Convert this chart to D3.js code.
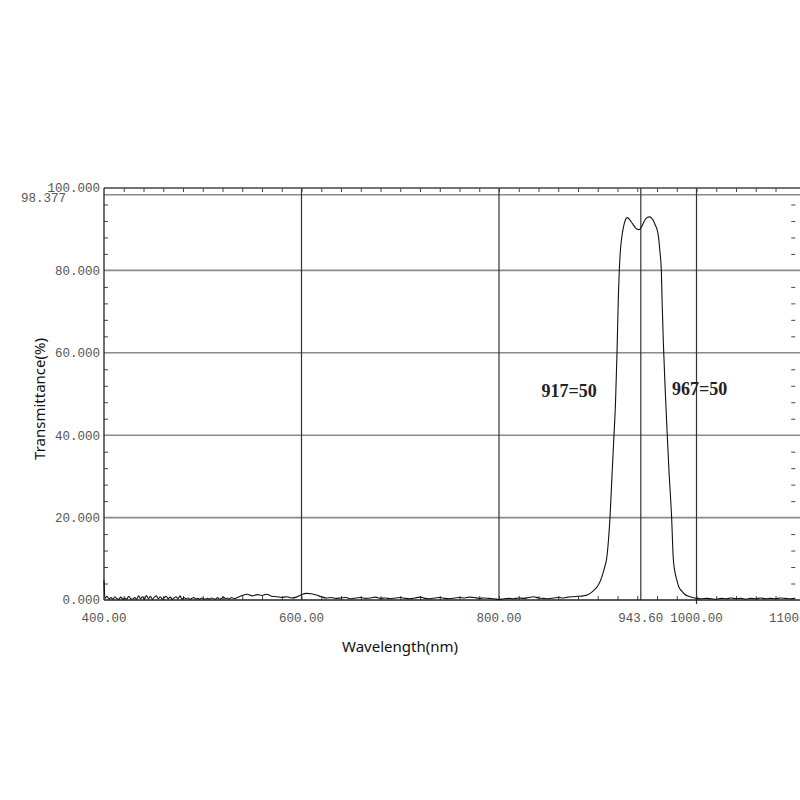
<!DOCTYPE html>
<html>
<head>
<meta charset="utf-8">
<script src="https://cdn.jsdelivr.net/npm/d3@7"></script>
<style>
  html, body { margin: 0; padding: 0; background: #fff; }
  svg { display: block; }
</style>
</head>
<body>
<svg id="chart" width="800" height="800"></svg>
<script>
// ---- data ----
const wavelength = [
  400, 401, 403, 405, 407, 409, 411, 413, 415, 417, 419, 421, 423, 425, 427, 429, 431, 433, 435, 437,
  439, 441, 443, 445, 447, 449, 451, 453, 455, 457, 459, 461, 463, 465, 467, 469, 471, 473, 475, 477,
  479, 481, 483, 485, 487, 489, 491, 493, 495, 497, 499, 501, 503, 505, 507, 509, 511, 513, 515, 517,
  519, 521, 523, 525, 527, 529, 532, 535, 538, 540,
  545, 550, 555, 560, 565, 570, 575, 580, 585, 590,
  595, 600, 605, 610, 615, 620, 625, 630, 635, 640, 645, 650, 655, 660, 665, 670, 675, 680, 685, 690,
  695, 700, 705, 710, 715, 720, 725, 730, 735, 740, 745, 750, 755, 760, 765, 770, 775, 780, 785, 790,
  795, 800, 805, 810, 815, 820, 825, 830, 835, 840, 845, 850, 855, 860, 865, 870, 875, 880, 885, 890,
  894, 898, 901, 904, 907, 909, 911, 912.4, 914, 916, 918, 919.5, 920.8, 921.8, 923, 924.9, 926.9, 928.5, 930, 932,
  935, 938, 940, 942, 944, 946, 949, 952, 954.5, 956.5, 958.3, 960, 961.3, 963, 964.4, 965.1, 966.5, 968.5, 970, 972,
  974.8, 976.5, 978, 980, 982, 985, 988, 992, 996, 1000, 1005, 1010, 1015, 1020, 1025, 1030, 1035, 1040, 1045, 1050,
  1055, 1060, 1065, 1070, 1075, 1080, 1085, 1090, 1095, 1100
];
const transmittance = [
  4.8, 0.4, 0.9, 0.2, 0.6, 0.2, 0.8, 0.3, 0.2, 0.7, 0.2, 0.5, 0.2, 0.9, 0.3, 0.2, 0.6, 0.2, 1.0, 0.3,
  0.8, 0.2, 1.1, 0.3, 0.9, 0.2, 0.7, 1.0, 0.3, 0.8, 0.2, 0.6, 0.9, 0.3, 0.7, 0.2, 0.5, 0.8, 0.3, 1.0,
  0.2, 0.6, 0.3, 0.5, 0.2, 0.4, 0.6, 0.2, 0.4, 0.2, 0.5, 0.3, 0.2, 0.4, 0.2, 0.5, 0.3, 0.2, 0.6, 0.2,
  0.4, 0.7, 0.3, 0.5, 0.2, 0.6, 0.3, 0.6, 0.9, 1.1,
  1.4, 1.0, 1.3, 1.1, 1.4, 0.9, 0.8, 0.6, 0.8, 0.5,
  0.7, 1.3, 1.6, 1.5, 1.2, 0.8, 0.5, 0.6, 0.4, 0.5, 0.6, 0.3, 0.5, 0.6, 0.4, 0.5, 0.7, 0.4, 0.5, 0.3,
  0.5, 0.6, 0.4, 0.3, 0.5, 0.7, 0.4, 0.3, 0.5, 0.6, 0.4, 0.3, 0.5, 0.6, 0.5, 0.7, 0.6, 0.4, 0.5, 0.4,
  0.3, 0.1, 0.3, 0.4, 0.3, 0.5, 0.4, 0.6, 0.8, 0.5, 0.4, 0.3, 0.5, 0.6, 0.5, 0.7, 0.8, 0.9, 1.0, 1.3,
  1.9, 2.8, 3.8, 5.5, 8.0, 10.0, 15.0, 20.0, 28.0, 38.0, 48.0, 60.0, 73.0, 80.0, 85.0, 89.0, 91.4, 92.5, 92.8, 92.4,
  91.4, 90.4, 90.0, 89.9, 90.4, 91.4, 92.6, 93.0, 92.7, 92.0, 91.0, 90.0, 88.5, 84.5, 80.0, 73.0, 62.0, 50.0, 42.0, 32.0,
  20.0, 10.0, 7.0, 4.9, 3.2, 2.2, 1.4, 0.9, 0.6, 0.4, 0.3, 0.4, 0.3, 0.2, 0.4, 0.3, 0.5, 0.3, 0.4, 0.2,
  0.4, 0.3, 0.5, 0.3, 0.4, 0.3, 0.5, 0.4, 0.3, 0.4
];
const xMajorTicks = [400, 600, 800, 943.6, 1000, 1100];
const xTickLabels = ["400.00", "600.00", "800.00", "943.60", "1000.00", "1100.00"];
const yMajorTicks = [0, 20, 40, 60, 80, 100];
const yTickLabels = ["0.000", "20.000", "40.000", "60.000", "80.000", "100.000"];
const maxValue = 98.377;
const maxLabel = "98.377";
const annotations = [
  { text: "917=50", x: 917, y: 50 },
  { text: "967=50", x: 967, y: 50 }
];
const xTitle = "Wavelength(nm)";
const yTitle = "Transmittance(%)";

// ---- layout ----
(function () {
const svg = d3.select("#chart");
const pLeft = 104, pRight = 795.25, pTop = 188, pBottom = 600, pEdge = 800;
const x = d3.scaleLinear().domain([400, 1100]).range([pLeft, pRight]);
const y = d3.scaleLinear().domain([0, 100]).range([pBottom, pTop]);

const monoFont = "'Liberation Mono', 'DejaVu Sans Mono', monospace";
const labelColor = "#555";

// horizontal grid lines (gray)
const hGrid = yMajorTicks.filter(v => v > 0 && v < 100).concat([maxValue]);
svg.append("g").selectAll("line").data(hGrid).join("line")
  .attr("x1", pLeft).attr("x2", pEdge)
  .attr("y1", d => y(d)).attr("y2", d => y(d))
  .attr("stroke", "#8a8a8a").attr("stroke-width", 1.6);

// vertical grid lines (dark)
const vGrid = xMajorTicks.filter(v => v > 400 && v < 1100);
svg.append("g").selectAll("line").data(vGrid).join("line")
  .attr("x1", d => x(d)).attr("x2", d => x(d))
  .attr("y1", pTop).attr("y2", d => d === 1000 ? pBottom + 4 : pBottom)
  .attr("stroke", "#333").attr("stroke-width", 1.2);

// minor ticks via d3 axes
const xMinor = d3.range(420, 1100, 20);
const yMinor = d3.range(4, 100, 4).filter(v => v % 20 !== 0);

const gTop = svg.append("g").attr("transform", `translate(0,${pTop})`)
  .call(d3.axisBottom(x).tickValues(xMinor).tickSize(4).tickFormat(""));
const gBot = svg.append("g").attr("transform", `translate(0,${pBottom})`)
  .call(d3.axisTop(x).tickValues(xMinor).tickSize(4).tickFormat(""));
const gLeft = svg.append("g").attr("transform", `translate(${pLeft},0)`)
  .call(d3.axisRight(y).tickValues(yMinor).tickSize(4).tickFormat(""));
const gRight = svg.append("g").attr("transform", `translate(${pRight},0)`)
  .call(d3.axisLeft(y).tickValues(yMinor).tickSize(4).tickFormat(""));
[gTop, gBot, gLeft, gRight].forEach(g => {
  g.select(".domain").remove();
  g.selectAll(".tick line").attr("stroke", "#444").attr("stroke-width", 1);
});

// frame lines
svg.append("line").attr("x1", pLeft).attr("x2", pEdge).attr("y1", pTop).attr("y2", pTop)
  .attr("stroke", "#444").attr("stroke-width", 1.3);
svg.append("line").attr("x1", pLeft).attr("x2", pEdge).attr("y1", pBottom).attr("y2", pBottom)
  .attr("stroke", "#222").attr("stroke-width", 1.3);
svg.append("line").attr("x1", pLeft).attr("x2", pLeft).attr("y1", pTop).attr("y2", pBottom)
  .attr("stroke", "#222").attr("stroke-width", 1.3);

// y tick labels
svg.append("g").selectAll("text").data(yMajorTicks).join("text")
  .attr("x", pLeft - 4).attr("y", d => y(d)).attr("dy", "0.35em")
  .attr("text-anchor", "end")
  .attr("font-family", monoFont).attr("font-size", 12.5).attr("fill", labelColor)
  .text((d, i) => yTickLabels[i]);
svg.append("text")
  .attr("x", 66).attr("y", y(maxValue)).attr("dy", "0.55em")
  .attr("text-anchor", "end")
  .attr("font-family", monoFont).attr("font-size", 12.5).attr("fill", labelColor)
  .text(maxLabel);

// x tick labels
svg.append("g").selectAll("text").data(xMajorTicks).join("text")
  .attr("x", d => x(d)).attr("y", pBottom + 22)
  .attr("text-anchor", "middle")
  .attr("font-family", monoFont).attr("font-size", 12.5).attr("fill", labelColor)
  .text((d, i) => xTickLabels[i]);

// axis titles
svg.append("text")
  .attr("x", 400).attr("y", 652)
  .attr("text-anchor", "middle")
  .attr("font-family", "'Noto Sans', sans-serif").attr("font-size", 15).attr("fill", "#111")
  .text(xTitle);
svg.append("text")
  .attr("transform", `translate(45,399) rotate(-90)`)
  .attr("text-anchor", "middle")
  .attr("font-family", "'Noto Sans', sans-serif").attr("font-size", 15).attr("fill", "#111")
  .text(yTitle);

// curve
const points = wavelength.map((w, i) => [w, transmittance[i]]);
svg.append("path")
  .datum(points)
  .attr("fill", "none").attr("stroke", "#111").attr("stroke-width", 1.1)
  .attr("d", d3.line().x(d => x(d[0])).y(d => y(d[1])).curve(d3.curveMonotoneX));

// annotations
svg.append("text")
  .attr("x", x(annotations[0].x) - 73).attr("y", 397)
  .attr("font-family", "'Liberation Serif', 'DejaVu Serif', serif").attr("font-weight", "bold")
  .attr("font-size", 18).attr("fill", "#222")
  .text(annotations[0].text);
svg.append("text")
  .attr("x", x(annotations[1].x) + 8).attr("y", 395)
  .attr("font-family", "'Liberation Serif', 'DejaVu Serif', serif").attr("font-weight", "bold")
  .attr("font-size", 18).attr("fill", "#222")
  .text(annotations[1].text);
})();
</script>
</body>
</html>
